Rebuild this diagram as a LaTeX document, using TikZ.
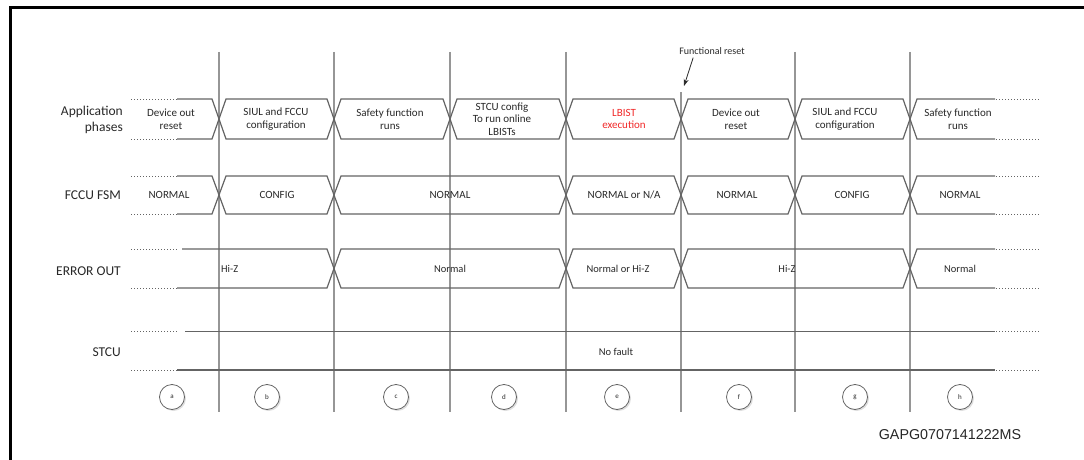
\documentclass[tikz,border=0pt]{standalone}
\usepackage{fontspec}
\setmainfont{Carlito}
\newfontfamily\arialf{Liberation Sans}
\usetikzlibrary{shadows,arrows.meta}
\definecolor{busc}{RGB}{100,100,100}
\definecolor{vlc}{RGB}{150,150,150}
\definecolor{txc}{RGB}{40,40,40}
\definecolor{lbred}{RGB}{240,40,40}
\newcommand\hexseg[5]{\draw[bus] (#1+7,#3) -- (#2-7,#3) -- (#2,#4) -- (#2-7,#5) -- (#1+7,#5) -- (#1,#4) -- cycle;}
\begin{document}
\begin{tikzpicture}[x=1pt,y=-1pt,
  bus/.style={draw=busc,line width=1.2pt,line join=miter},
  vline/.style={draw=vlc,line width=1.1pt},
  dots/.style={draw=busc,line width=0.9pt,dash pattern=on 1pt off 2pt},
  sig/.style={font=\fontsize{13.5}{16}\selectfont,text=txc,anchor=east,align=right,inner sep=0},
  ph/.style={font=\fontsize{11}{12.7}\selectfont,text=txc,align=center,inner sep=0},
  st/.style={font=\fontsize{10.5}{12}\selectfont,text=txc,align=center,inner sep=0},
  circ/.style={circle,draw=busc,line width=0.8pt,fill=white,minimum size=25pt,inner sep=0,
    font=\fontsize{7}{8}\selectfont,text=txc,
    drop shadow={shadow xshift=1.5pt,shadow yshift=-1.5pt,opacity=0.25}}
]
\useasboundingbox (0,0) rectangle (1084,460);
% frame
\draw[line width=3pt] (10,460) -- (10,7.5) -- (1084,7.5);
% vertical lines
\foreach \x in {219,334,450,566,795,910} \draw[vline] (\x,52) -- (\x,412);
\draw[vline] (681,92) -- (681,412);
% dotted extensions
\foreach \y in {99,139,176,214,249,288,331.5,370} {
  \draw[dots] (131,\y) -- (177,\y);
  \draw[dots] (996,\y) -- (1040,\y);
}
% Application phases bus
\draw[bus] (177,99) -- (212,99) -- (219,119) -- (212,139) -- (177,139);
\foreach \a/\b in {219/334,334/450,450/566,566/681,681/795,795/910} {\hexseg{\a}{\b}{99}{119}{139}}
\draw[bus] (995,99) -- (917,99) -- (910,119) -- (917,139) -- (995,139);
% FCCU FSM bus
\draw[bus] (177,176) -- (212,176) -- (219,195) -- (212,214) -- (177,214);
\foreach \a/\b in {219/334,334/566,566/681,681/795,795/910} {\hexseg{\a}{\b}{176}{195}{214}}
\draw[bus] (995,176) -- (917,176) -- (910,195) -- (917,214) -- (995,214);
% ERROR OUT bus
\draw[bus] (182,249) -- (327,249) -- (334,268.5) -- (327,288) -- (177,288);
\foreach \a/\b in {334/566,566/681,681/910} {\hexseg{\a}{\b}{249}{268.5}{288}}
\draw[bus] (995,249) -- (917,249) -- (910,268.5) -- (917,288) -- (995,288);
% STCU bus
\draw[bus] (185,331.5) -- (995,331.5);
\draw[bus] (177,370) -- (995,370);
% signal names
\node[sig] (sapp) at (123,120) {Application\\phases};
\node[sig] (sfccu) at (121,195) {FCCU FSM};
\node[sig] (serr) at (121,271) {ERROR OUT};
\node[sig] (sstcu) at (121,352) {STCU};
% application phases texts
\node[ph] (pa) at (171,119) {Device out\\reset};
\node[ph] (pb) at (276,119) {SIUL and FCCU\\configuration};
\node[ph] (pc) at (390,119) {Safety function\\runs};
\node[ph] (pd) at (502,119) {STCU config\\To run online\\LBISTs};
\node[ph,text=lbred] (pe) at (624,119) {LBIST\\execution};
\node[ph] (pf) at (736,119) {Device out\\reset};
\node[ph] (pg) at (845,119) {SIUL and FCCU\\configuration};
\node[ph] (ph) at (958,119) {Safety function\\runs};
% FCCU texts
\node[ph] (fa) at (169,195) {NORMAL};
\node[ph] (fb) at (277,195) {CONFIG};
\node[ph] (fc) at (450,195) {NORMAL};
\node[ph] (fe) at (624,195) {NORMAL or N/A};
\node[ph] (ff) at (737,195) {NORMAL};
\node[ph] (fg) at (852,195) {CONFIG};
\node[ph] (fh) at (960,195) {NORMAL};
% ERROR OUT texts
\node[st,anchor=west] (ea) at (221,269) {Hi-Z};
\node[st] (ec) at (450,269) {Normal};
\node[st] (ee) at (618,269) {Normal or Hi-Z};
\node[st] (ef) at (787,269) {Hi-Z};
\node[st] (eh) at (960,269) {Normal};
% STCU text
\node[st] (nf) at (616,352) {No fault};
% functional reset
\node[font=\fontsize{10}{12}\selectfont,text=txc,inner sep=0] (fr) at (712,51) {Functional reset};
\coordinate (frtip) at (684,86);
\draw[txc,line width=0.8pt,-{Stealth[length=7pt,width=5pt]}] ([xshift=14pt,yshift=-3pt]fr.south west) -- (frtip);
% circles
\foreach \n/\x in {a/172,b/267,c/396,d/504,e/617,f/739,g/855,h/960}
  \node[circ] (c\n) at (\x,397) {\n};
% figure code
\node[font=\arialf\fontsize{14.3}{16}\selectfont,text=black!85,inner sep=0] (code) at (950,435) {GAPG0707141222MS};
\end{tikzpicture}
\end{document}
